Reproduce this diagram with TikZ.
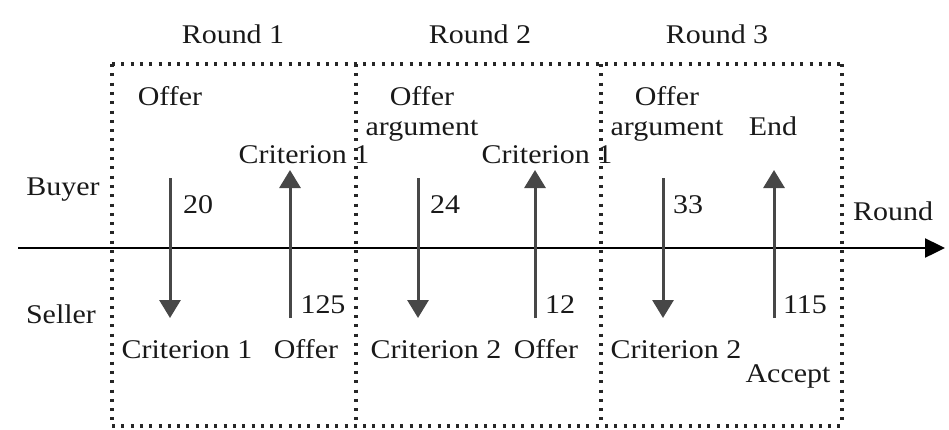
\documentclass[tikz,border=0pt]{standalone}
\usepackage{fontspec}
\setmainfont[FakeStretch=1.11]{Liberation Serif}
\usetikzlibrary{arrows.meta}
\begin{document}
\begin{tikzpicture}[x=1pt,y=-1pt,
  lbl/.style={font=\fontsize{27}{29}\selectfont, inner sep=0pt, text=black!90},
  dots/.style={line width=3.2pt, dash pattern=on 3pt off 6.3pt, black!85},
  msg/.style={line width=3pt, black!72, -{Triangle[width=21pt,length=18pt]}},
  axisline/.style={line width=2.4pt, black, -{Triangle[width=19pt,length=20pt]}}]
\useasboundingbox (0,0) rectangle (949,429);
% dotted frames
\draw[dots] (112,64) -- (842,64);
\draw[dots] (112,426) -- (842,426);
\draw[dots] (112,64) -- (112,426);
\draw[dots] (356,64) -- (356,426);
\draw[dots] (601,64) -- (601,426);
\draw[dots] (842,64) -- (842,426);
% axis
\coordinate (axs) at (18,248);
\coordinate (axe) at (945,248);
\draw[axisline] (axs) -- (axe);
% arrows
\coordinate (d1s) at (170,178); \coordinate (d1e) at (170,318);
\coordinate (u1s) at (290,318); \coordinate (u1e) at (290,170);
\coordinate (d2s) at (418,178); \coordinate (d2e) at (418,318);
\coordinate (u2s) at (535,318); \coordinate (u2e) at (535,170);
\coordinate (d3s) at (663,178); \coordinate (d3e) at (663,318);
\coordinate (u3s) at (774,318); \coordinate (u3e) at (774,170);
\draw[msg] (d1s) -- (d1e);
\draw[msg] (u1s) -- (u1e);
\draw[msg] (d2s) -- (d2e);
\draw[msg] (u2s) -- (u2e);
\draw[msg] (d3s) -- (d3e);
\draw[msg] (u3s) -- (u3e);
% headers
\node[lbl, anchor=base] (r1) at (233,43) {Round 1};
\node[lbl, anchor=base] (r2) at (480,43) {Round 2};
\node[lbl, anchor=base] (r3) at (717,43) {Round 3};
\node[lbl, anchor=base] (buyer) at (63,195) {Buyer};
\node[lbl, anchor=base] (seller) at (61,323) {Seller};
\node[lbl, anchor=base west] (roundax) at (853,220) {Round};
% round 1
\node[lbl, anchor=base] (off1) at (170,105) {Offer};
\node[lbl, anchor=base] (cr1t) at (304,163) {Criterion 1};
\node[lbl, anchor=base west] (v20) at (183,213) {20};
\node[lbl, anchor=base] (cr1b) at (187,358) {Criterion 1};
\node[lbl, anchor=base] (off1b) at (306,358) {Offer};
\node[lbl, anchor=base] (v125) at (323,313) {125};
% round 2
\node[lbl, anchor=base] (off2) at (422,105) {Offer};
\node[lbl, anchor=base] (arg2) at (422,135) {argument};
\node[lbl, anchor=base] (cr2t) at (547,163) {Criterion 1};
\node[lbl, anchor=base west] (v24) at (430,213) {24};
\node[lbl, anchor=base] (cr2b) at (436,358) {Criterion 2};
\node[lbl, anchor=base] (off2b) at (546,358) {Offer};
\node[lbl, anchor=base] (v12) at (560,313) {12};
% round 3
\node[lbl, anchor=base] (off3) at (667,105) {Offer};
\node[lbl, anchor=base] (arg3) at (667,135) {argument};
\node[lbl, anchor=base] (end3) at (773,135) {End};
\node[lbl, anchor=base west] (v33) at (673,213) {33};
\node[lbl, anchor=base] (cr3b) at (676,358) {Criterion 2};
\node[lbl, anchor=base] (acc3) at (788,382) {Accept};
\node[lbl, anchor=base] (v115) at (805,313) {115};
\end{tikzpicture}
\end{document}
